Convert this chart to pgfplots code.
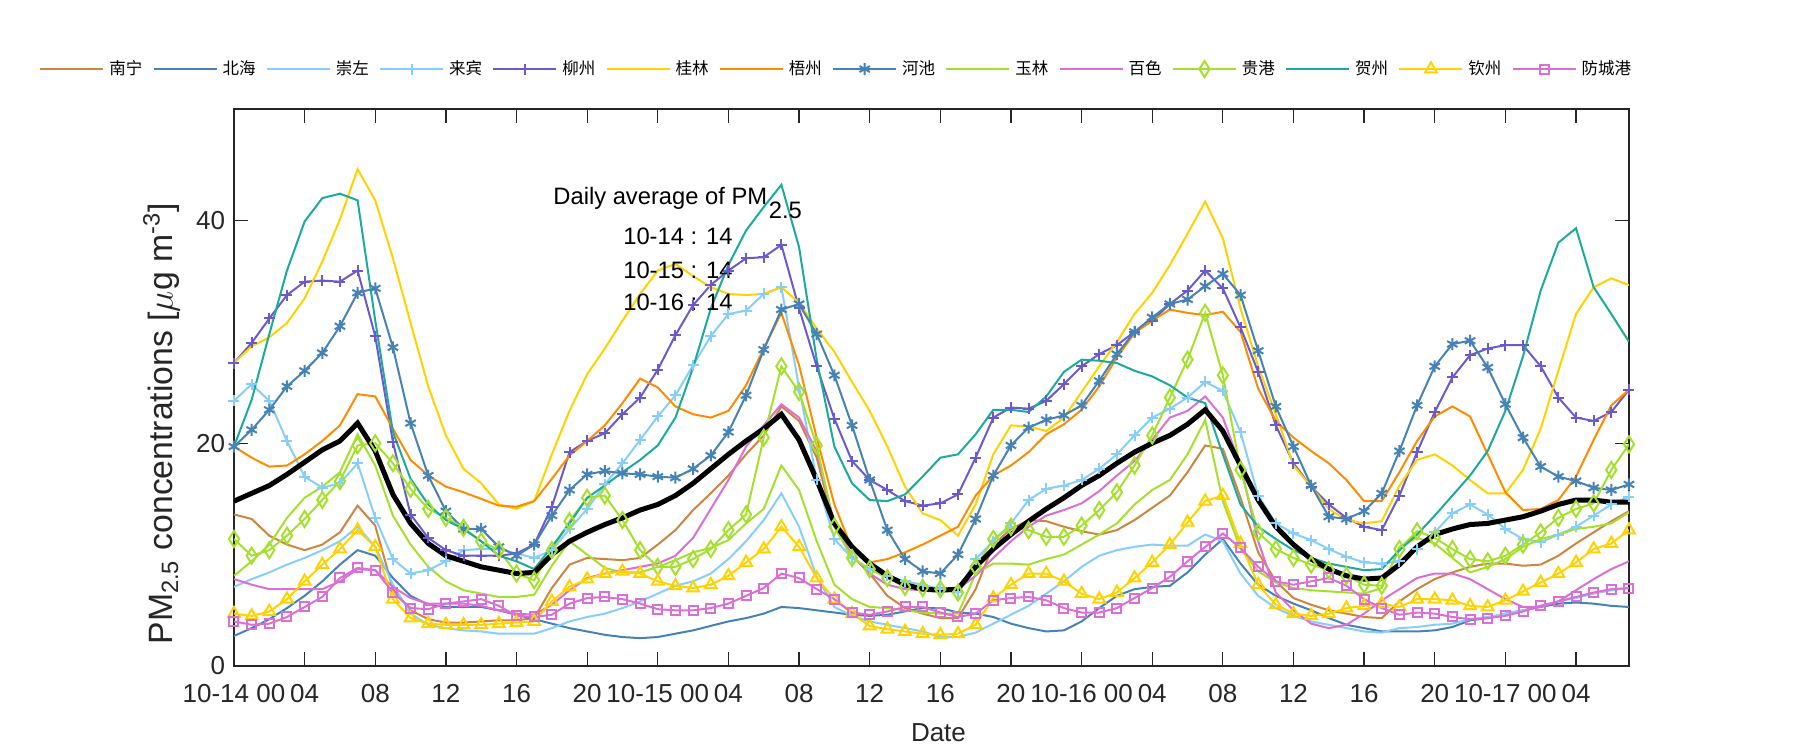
\documentclass[border=0pt]{standalone}
\usepackage{pgfplots}
\pgfplotsset{compat=1.18}
\usepackage{fontspec}
\setmainfont{Liberation Sans}
\newfontfamily\cjk{Noto Sans CJK SC}
\definecolor{cNN}{HTML}{CD853F}
\definecolor{cBH}{HTML}{4682B4}
\definecolor{cCZ}{HTML}{87CEFA}
\definecolor{cLZ}{HTML}{6A5ACD}
\definecolor{cGL}{HTML}{FFD200}
\definecolor{cWZ}{HTML}{FF8C00}
\definecolor{cYL}{HTML}{A4E02C}
\definecolor{cBS}{HTML}{DA70D6}
\definecolor{cHZ}{HTML}{1BAA9D}
\begin{document}
\begin{tikzpicture}
\begin{axis}[
  at={(0pt,0pt)}, anchor=south west,
  scale only axis, width=558pt, height=222.8pt,
  xmin=0, xmax=79, ymin=0, ymax=50,
  xtick={0,4,...,76}, ytick={0,20,40},
  xticklabels={10-14 00,04,08,12,16,20,10-15 00,04,08,12,16,20,10-16 00,04,08,12,16,20,10-17 00,04},
  tick align=inside, major tick length=5.6pt,
  axis line style={black!85, line width=0.5pt},
  every tick/.style={black!85, line width=0.5pt},
  /pgf/number format/assume math mode=true,
  tick label style={font=\fontsize{10.4}{12}\selectfont, text=black!85},
  xticklabel style={yshift=-4pt},
  xlabel={Date},
  xlabel style={font=\fontsize{10.4}{12}\selectfont, at={(axis description cs:0.505,-0.120)}, anchor=center, text=black!85},
  ylabel={PM\textsubscript{2.5} concentrations [$\mu$g m\textsuperscript{-3}]},
  ylabel style={font=\fontsize{13.5}{15}\selectfont, at={(axis description cs:-0.052,0.435)}, anchor=center, text=black!85},
  legend columns=14,
  legend style={at={(axis description cs:-0.1398,1.0718)}, anchor=west, draw=none, fill=none, inner sep=0pt,
     font=\fontsize{6.6}{8}\cjk, /tikz/every even column/.append style={column sep=2.1pt}},
  legend image code/.code={\draw[mark repeat=2,mark phase=2,#1] plot coordinates {(0pt,0pt) (12.6pt,0pt) (25.2pt,0pt)};},
  every axis plot/.append style={line width=0.8pt},
]
% 南宁
\addplot[cNN, mark=none] coordinates {
(0,13.6)(1,13.2)(2,11.7)(3,10.9)(4,10.4)(5,10.9)(6,12.0)(7,14.4)(8,12.6)(9,6.9)
(10,5.0)(11,4.2)(12,3.9)(13,3.9)(14,4.0)(15,4.1)(16,4.1)(17,4.3)(18,7.0)(19,9.1)
(20,9.7)(21,9.6)(22,9.5)(23,9.7)(24,10.9)(25,12.2)(26,14.0)(27,15.5)(28,17.1)(29,19.0)
(30,20.7)(31,23.3)(32,22.0)(33,18.7)(34,12.5)(35,9.9)(36,8.3)(37,6.3)(38,5.2)(39,4.7)
(40,4.3)(41,4.3)(42,6.9)(43,10.9)(44,12.3)(45,13.1)(46,13.0)(47,12.5)(48,12.1)(49,11.8)
(50,12.2)(51,13.1)(52,14.2)(53,15.3)(54,17.4)(55,19.8)(56,19.5)(57,15.1)(58,10.2)(59,7.6)
(60,6.1)(61,5.5)(62,5.0)(63,4.7)(64,4.4)(65,4.3)(66,5.8)(67,6.9)(68,7.8)(69,8.4)
(70,8.9)(71,9.2)(72,9.2)(73,9.0)(74,9.1)(75,9.9)(76,11.0)(77,12.0)(78,13.0)(79,13.9)};
\addlegendentry{南宁}
% 北海
\addplot[cBH, mark=none] coordinates {
(0,2.7)(1,3.4)(2,4.2)(3,5.2)(4,6.3)(5,7.6)(6,9.1)(7,10.4)(8,9.9)(9,7.9)
(10,6.3)(11,5.5)(12,5.3)(13,5.3)(14,5.3)(15,5.0)(16,4.6)(17,4.2)(18,3.8)(19,3.4)
(20,3.1)(21,2.8)(22,2.6)(23,2.5)(24,2.6)(25,2.9)(26,3.2)(27,3.6)(28,4.0)(29,4.3)
(30,4.7)(31,5.3)(32,5.2)(33,5.0)(34,4.8)(35,4.6)(36,4.5)(37,4.6)(38,4.9)(39,5.2)
(40,5.2)(41,4.8)(42,4.7)(43,4.4)(44,3.8)(45,3.4)(46,3.1)(47,3.2)(48,4.0)(49,5.2)
(50,6.3)(51,6.9)(52,7.1)(53,7.2)(54,8.4)(55,10.0)(56,11.4)(57,9.2)(58,7.3)(59,6.3)
(60,5.6)(61,5.0)(62,4.3)(63,3.7)(64,3.4)(65,3.1)(66,3.1)(67,3.1)(68,3.2)(69,3.5)
(70,4.1)(71,4.3)(72,4.7)(73,5.0)(74,5.3)(75,5.6)(76,5.7)(77,5.6)(78,5.4)(79,5.3)};
\addlegendentry{北海}
% 崇左
\addplot[cCZ, mark=none] coordinates {
(0,7.1)(1,7.8)(2,8.4)(3,9.1)(4,9.7)(5,10.4)(6,11.2)(7,12.5)(8,10.7)(9,7.3)
(10,4.7)(11,3.7)(12,3.4)(13,3.2)(14,3.1)(15,2.9)(16,2.9)(17,2.9)(18,3.4)(19,4.0)
(20,4.4)(21,4.7)(22,5.2)(23,5.8)(24,6.5)(25,7.2)(26,7.6)(27,8.3)(28,9.6)(29,11.2)
(30,13.1)(31,15.5)(32,12.5)(33,8.0)(34,5.3)(35,4.5)(36,4.0)(37,3.7)(38,3.4)(39,3.1)
(40,2.6)(41,2.6)(42,3.0)(43,3.8)(44,4.6)(45,5.4)(46,6.5)(47,7.6)(48,8.9)(49,9.9)
(50,10.4)(51,10.7)(52,10.9)(53,10.8)(54,10.8)(55,11.8)(56,11.2)(57,8.3)(58,6.3)(59,5.2)
(60,4.5)(61,4.0)(62,3.7)(63,3.4)(64,3.1)(65,3.0)(66,3.4)(67,3.5)(68,3.7)(69,3.8)
(70,4.2)(71,4.4)(72,4.7)(73,5.0)(74,5.4)(75,5.8)(76,6.1)(77,6.5)(78,6.8)(79,7.0)};
\addlegendentry{崇左}
% 来宾
\addplot[cCZ, mark=+, mark size=2.2pt, mark options={solid}] coordinates {
(0,23.8)(1,25.3)(2,23.8)(3,20.2)(4,17.0)(5,16.0)(6,16.4)(7,18.2)(8,13.3)(9,9.6)
(10,8.3)(11,8.6)(12,9.4)(13,10.4)(14,10.5)(15,10.5)(16,10.1)(17,9.7)(18,10.4)(19,12.3)
(20,14.1)(21,16.3)(22,18.2)(23,20.3)(24,22.4)(25,24.3)(26,27.0)(27,29.6)(28,31.6)(29,31.9)
(30,33.4)(31,34.0)(32,25.0)(33,16.7)(34,11.4)(35,9.7)(36,8.7)(37,8.1)(38,7.6)(39,7.3)
(40,6.9)(41,6.6)(42,9.6)(43,11.2)(44,12.8)(45,14.9)(46,15.9)(47,16.2)(48,16.7)(49,17.7)
(50,19.0)(51,20.7)(52,22.3)(53,23.1)(54,24.1)(55,25.5)(56,24.7)(57,21.0)(58,15.3)(59,12.8)
(60,11.9)(61,11.3)(62,10.5)(63,9.8)(64,9.3)(65,9.2)(66,9.4)(67,10.5)(68,12.0)(69,13.7)
(70,14.5)(71,13.6)(72,12.3)(73,11.4)(74,11.1)(75,11.8)(76,12.5)(77,13.5)(78,14.5)(79,15.2)};
\addlegendentry{来宾}
% 柳州
\addplot[cLZ, mark=+, mark size=2.2pt, mark options={solid}] coordinates {
(0,27.2)(1,29.0)(2,31.2)(3,33.3)(4,34.5)(5,34.6)(6,34.5)(7,35.5)(8,29.6)(9,20.1)
(10,13.6)(11,11.5)(12,10.4)(13,9.9)(14,9.9)(15,9.9)(16,10.1)(17,10.9)(18,14.3)(19,19.2)
(20,20.2)(21,20.9)(22,22.6)(23,24.1)(24,26.6)(25,29.7)(26,32.4)(27,34.2)(28,35.5)(29,36.6)
(30,36.7)(31,37.8)(32,32.1)(33,26.9)(34,22.2)(35,18.4)(36,16.7)(37,15.8)(38,14.8)(39,14.4)
(40,14.6)(41,15.4)(42,18.7)(43,22.3)(44,23.2)(45,23.1)(46,23.8)(47,25.3)(48,26.9)(49,28.0)
(50,28.8)(51,30.0)(52,31.0)(53,32.5)(54,33.7)(55,35.5)(56,33.9)(57,30.4)(58,26.4)(59,21.6)
(60,18.2)(61,16.1)(62,14.5)(63,13.3)(64,12.5)(65,12.2)(66,15.3)(67,19.2)(68,22.8)(69,25.9)
(70,27.9)(71,28.5)(72,28.8)(73,28.8)(74,26.9)(75,24.1)(76,22.3)(77,22.0)(78,22.8)(79,24.8)};
\addlegendentry{柳州}
% 桂林
\addplot[cGL, mark=none] coordinates {
(0,27.2)(1,28.7)(2,29.5)(3,30.8)(4,33.0)(5,36.3)(6,40.1)(7,44.6)(8,41.8)(9,36.6)
(10,30.8)(11,25.1)(12,20.7)(13,17.7)(14,16.4)(15,14.5)(16,14.1)(17,14.8)(18,19.0)(19,22.9)
(20,26.2)(21,28.5)(22,31.0)(23,33.4)(24,35.5)(25,36.1)(26,35.0)(27,34.0)(28,33.4)(29,33.3)
(30,33.4)(31,34.0)(32,32.6)(33,30.3)(34,28.2)(35,25.5)(36,22.9)(37,19.7)(38,16.1)(39,13.7)
(40,13.1)(41,11.7)(42,14.5)(43,19.0)(44,21.6)(45,21.5)(46,21.1)(47,22.3)(48,24.6)(49,26.9)
(50,29.1)(51,31.6)(52,33.5)(53,36.0)(54,38.8)(55,41.7)(56,38.4)(57,32.1)(58,26.9)(59,22.6)
(60,18.0)(61,16.1)(62,14.1)(63,13.1)(64,12.8)(65,13.0)(66,16.2)(67,18.5)(68,19.0)(69,18.0)
(70,16.7)(71,15.5)(72,15.5)(73,17.6)(74,21.3)(75,26.5)(76,31.6)(77,34.0)(78,34.8)(79,34.2)};
\addlegendentry{桂林}
% 梧州
\addplot[cWZ, mark=none] coordinates {
(0,19.7)(1,18.7)(2,17.9)(3,18.0)(4,19.0)(5,20.2)(6,21.6)(7,24.4)(8,24.2)(9,21.3)
(10,18.5)(11,17.1)(12,16.1)(13,15.6)(14,15.0)(15,14.4)(16,14.3)(17,14.8)(18,16.8)(19,18.9)
(20,20.2)(21,21.6)(22,23.6)(23,25.8)(24,25.0)(25,23.3)(26,22.6)(27,22.3)(28,22.9)(29,25.2)
(30,28.5)(31,31.7)(32,27.0)(33,20.5)(34,14.5)(35,10.5)(36,9.3)(37,9.6)(38,10.2)(39,10.9)
(40,11.7)(41,12.5)(42,15.3)(43,17.1)(44,18.0)(45,19.2)(46,20.8)(47,21.7)(48,23.0)(49,25.1)
(50,27.7)(51,29.9)(52,31.0)(53,32.0)(54,31.7)(55,31.5)(56,31.8)(57,30.0)(58,24.9)(59,22.0)
(60,20.5)(61,19.3)(62,18.2)(63,16.7)(64,14.8)(65,14.8)(66,17.4)(67,20.2)(68,22.4)(69,23.3)
(70,22.4)(71,19.0)(72,15.6)(73,14.0)(74,14.1)(75,14.9)(76,17.0)(77,20.3)(78,23.4)(79,24.8)};
\addlegendentry{梧州}
% 河池
\addplot[cBH, mark=asterisk, mark size=2.4pt, mark options={solid}] coordinates {
(0,19.7)(1,21.2)(2,23.0)(3,25.1)(4,26.5)(5,28.1)(6,30.5)(7,33.5)(8,33.9)(9,28.6)
(10,21.8)(11,17.1)(12,13.9)(13,12.3)(14,12.3)(15,10.7)(16,9.9)(17,10.9)(18,13.5)(19,15.8)
(20,17.2)(21,17.5)(22,17.3)(23,17.2)(24,17.0)(25,16.9)(26,17.7)(27,18.9)(28,21.0)(29,24.3)
(30,28.4)(31,32.0)(32,32.5)(33,29.8)(34,26.1)(35,21.6)(36,16.7)(37,12.2)(38,9.6)(39,8.5)
(40,8.3)(41,10.0)(42,13.2)(43,17.1)(44,19.8)(45,21.4)(46,22.1)(47,22.5)(48,23.4)(49,25.6)
(50,28.0)(51,30.0)(52,31.3)(53,32.5)(54,32.9)(55,34.1)(56,35.2)(57,33.3)(58,28.3)(59,23.3)
(60,19.7)(61,16.2)(62,13.4)(63,13.2)(64,13.9)(65,15.5)(66,19.3)(67,23.4)(68,26.9)(69,28.9)
(70,29.2)(71,26.8)(72,23.5)(73,20.5)(74,17.9)(75,17.0)(76,16.6)(77,16.0)(78,15.8)(79,16.3)};
\addlegendentry{河池}
% 玉林
\addplot[cYL, mark=none] coordinates {
(0,8.1)(1,9.4)(2,10.9)(3,13.3)(4,15.1)(5,16.1)(6,17.4)(7,20.8)(8,18.0)(9,13.5)
(10,10.9)(11,8.9)(12,7.6)(13,6.8)(14,6.5)(15,6.2)(16,6.2)(17,6.4)(18,9.0)(19,11.2)
(20,10.0)(21,8.8)(22,8.4)(23,8.4)(24,8.9)(25,9.5)(26,10.2)(27,10.6)(28,11.3)(29,12.8)
(30,14.1)(31,18.0)(32,15.8)(33,11.2)(34,7.3)(35,6.0)(36,5.3)(37,5.2)(38,5.0)(39,4.8)
(40,4.7)(41,4.7)(42,8.3)(43,9.2)(44,9.2)(45,9.1)(46,9.6)(47,10.0)(48,10.9)(49,11.8)
(50,12.8)(51,14.5)(52,15.8)(53,16.7)(54,19.0)(55,22.1)(56,14.8)(57,10.5)(58,8.5)(59,7.5)
(60,7.0)(61,6.8)(62,6.7)(63,6.6)(64,6.5)(65,7.0)(66,10.7)(67,11.5)(68,11.0)(69,9.7)
(70,8.4)(71,8.9)(72,9.6)(73,10.7)(74,11.4)(75,11.8)(76,12.3)(77,12.5)(78,12.8)(79,13.8)};
\addlegendentry{玉林}
% 百色
\addplot[cBS, mark=none] coordinates {
(0,7.8)(1,7.3)(2,6.9)(3,6.9)(4,6.9)(5,6.9)(6,7.6)(7,8.7)(8,8.6)(9,7.1)
(10,6.1)(11,5.6)(12,5.6)(13,5.6)(14,5.4)(15,5.0)(16,4.7)(17,4.6)(18,5.5)(19,6.8)
(20,7.9)(21,8.3)(22,8.6)(23,8.9)(24,9.2)(25,9.9)(26,11.5)(27,14.1)(28,16.7)(29,19.7)
(30,21.6)(31,23.5)(32,22.3)(33,19.3)(34,12.8)(35,9.9)(36,8.3)(37,7.3)(38,6.9)(39,6.8)
(40,6.8)(41,6.9)(42,8.1)(43,9.7)(44,11.2)(45,12.5)(46,13.5)(47,14.0)(48,14.6)(49,15.7)
(50,17.1)(51,18.4)(52,20.3)(53,22.3)(54,22.9)(55,24.2)(56,22.3)(57,18.0)(58,11.2)(59,6.6)
(60,5.0)(61,3.8)(62,3.4)(63,3.7)(64,4.7)(65,5.9)(66,6.9)(67,7.9)(68,8.3)(69,8.3)
(70,7.8)(71,6.9)(72,6.0)(73,5.3)(74,5.3)(75,5.8)(76,6.8)(77,7.8)(78,8.7)(79,9.4)};
\addlegendentry{百色}
% 贵港
\addplot[cYL, mark=diamond, mark size=3.2pt, mark options={solid, fill=none, xscale=0.85}] coordinates {
(0,11.4)(1,9.9)(2,10.4)(3,11.7)(4,13.2)(5,14.9)(6,16.6)(7,19.8)(8,20.0)(9,18.2)
(10,15.9)(11,14.1)(12,13.3)(13,12.4)(14,11.2)(15,10.4)(16,8.3)(17,7.7)(18,10.4)(19,13.0)
(20,15.1)(21,15.3)(22,13.1)(23,10.4)(24,8.9)(25,8.9)(26,9.6)(27,10.5)(28,12.2)(29,13.6)
(30,20.5)(31,26.9)(32,24.6)(33,19.8)(34,12.5)(35,9.7)(36,8.7)(37,7.9)(38,7.1)(39,7.0)
(40,6.9)(41,6.6)(42,8.9)(43,11.4)(44,12.5)(45,12.2)(46,11.6)(47,11.6)(48,12.6)(49,14.0)
(50,15.6)(51,18.0)(52,20.7)(53,24.1)(54,27.5)(55,31.7)(56,26.1)(57,17.6)(58,12.0)(59,10.5)
(60,9.7)(61,9.1)(62,8.6)(63,8.1)(64,7.3)(65,7.2)(66,10.5)(67,12.1)(68,11.5)(69,10.5)
(70,9.6)(71,9.4)(72,9.9)(73,10.9)(74,12.0)(75,13.3)(76,14.1)(77,14.6)(78,17.6)(79,19.9)};
\addlegendentry{贵港}
% 贺州
\addplot[cHZ, mark=none] coordinates {
(0,19.7)(1,23.9)(2,29.8)(3,35.5)(4,39.9)(5,42.0)(6,42.4)(7,41.8)(8,31.0)(9,21.0)
(10,16.8)(11,14.5)(12,13.1)(13,12.3)(14,11.2)(15,9.9)(16,9.4)(17,8.7)(18,10.7)(19,12.8)
(20,15.1)(21,16.2)(22,17.4)(23,18.5)(24,19.8)(25,22.3)(26,26.8)(27,32.1)(28,36.0)(29,39.1)
(30,41.2)(31,43.2)(32,37.6)(33,27.5)(34,19.7)(35,16.4)(36,14.9)(37,14.8)(38,15.4)(39,17.0)
(40,18.7)(41,19.0)(42,20.8)(43,23.0)(44,23.0)(45,22.8)(46,24.2)(47,26.4)(48,27.5)(49,27.4)
(50,27.2)(51,26.5)(52,26.0)(53,25.2)(54,24.1)(55,23.6)(56,19.0)(57,14.5)(58,12.5)(59,11.4)
(60,10.4)(61,9.7)(62,9.2)(63,8.9)(64,8.6)(65,8.7)(66,10.4)(67,11.8)(68,13.5)(69,15.3)
(70,17.1)(71,19.3)(72,22.9)(73,27.8)(74,33.7)(75,38.0)(76,39.3)(77,34.0)(78,31.6)(79,29.1)};
\addlegendentry{贺州}
% 钦州
\addplot[cGL, mark=triangle, mark size=2.7pt, mark options={solid, fill=none}] coordinates {
(0,4.7)(1,4.5)(2,4.9)(3,6.0)(4,7.6)(5,9.1)(6,10.5)(7,12.2)(8,10.7)(9,6.0)
(10,4.3)(11,3.8)(12,3.7)(13,3.7)(14,3.7)(15,3.8)(16,3.9)(17,4.0)(18,5.8)(19,7.1)
(20,7.8)(21,8.3)(22,8.5)(23,8.3)(24,7.6)(25,7.2)(26,7.0)(27,7.3)(28,8.1)(29,9.3)
(30,10.5)(31,12.5)(32,10.7)(33,7.9)(34,6.0)(35,4.7)(36,3.6)(37,3.3)(38,3.1)(39,2.9)
(40,2.8)(41,2.9)(42,3.7)(43,6.1)(44,7.3)(45,8.3)(46,8.3)(47,7.6)(48,6.5)(49,6.0)
(50,6.6)(51,7.9)(52,9.3)(53,10.9)(54,12.9)(55,14.8)(56,15.3)(57,11.0)(58,7.3)(59,5.5)
(60,4.7)(61,4.5)(62,4.7)(63,5.2)(64,5.4)(65,5.6)(66,5.3)(67,6.0)(68,6.0)(69,5.9)
(70,5.4)(71,5.3)(72,5.9)(73,6.7)(74,7.5)(75,8.3)(76,9.3)(77,10.5)(78,11.0)(79,12.2)};
\addlegendentry{钦州}
% 防城港
\addplot[cBS, mark=square, mark size=1.8pt, mark options={solid, fill=none}] coordinates {
(0,4.0)(1,3.7)(2,3.8)(3,4.4)(4,5.3)(5,6.2)(6,7.9)(7,8.8)(8,8.6)(9,6.6)
(10,5.2)(11,5.1)(12,5.6)(13,5.8)(14,6.0)(15,5.4)(16,4.5)(17,4.4)(18,4.6)(19,5.6)
(20,6.1)(21,6.2)(22,6.0)(23,5.6)(24,5.1)(25,5.0)(26,5.0)(27,5.2)(28,5.6)(29,6.3)
(30,7.0)(31,8.3)(32,7.9)(33,6.9)(34,6.0)(35,4.8)(36,4.6)(37,4.9)(38,5.3)(39,5.3)
(40,4.8)(41,4.4)(42,4.7)(43,5.9)(44,6.1)(45,6.2)(46,5.9)(47,5.2)(48,4.8)(49,4.8)
(50,5.2)(51,6.1)(52,7.0)(53,8.0)(54,9.4)(55,10.7)(56,11.9)(57,10.6)(58,8.9)(59,7.6)
(60,7.3)(61,7.6)(62,7.9)(63,7.2)(64,6.0)(65,5.2)(66,4.6)(67,4.8)(68,4.7)(69,4.4)
(70,4.2)(71,4.3)(72,4.5)(73,4.9)(74,5.4)(75,5.8)(76,6.2)(77,6.6)(78,6.9)(79,7.0)};
\addlegendentry{防城港}
% average
\addplot[black, line width=2pt, mark=none, forget plot] coordinates {
(0,14.8)(1,15.5)(2,16.2)(3,17.2)(4,18.3)(5,19.4)(6,20.2)(7,21.8)(8,19.3)(9,15.4)
(10,12.8)(11,11.0)(12,9.9)(13,9.4)(14,8.9)(15,8.6)(16,8.3)(17,8.4)(18,10.0)(19,11.2)
(20,12.0)(21,12.7)(22,13.3)(23,14.0)(24,14.5)(25,15.3)(26,16.4)(27,17.7)(28,19.0)(29,20.2)
(30,21.3)(31,22.6)(32,20.3)(33,16.7)(34,12.8)(35,10.7)(36,9.2)(37,8.1)(38,7.3)(39,6.9)
(40,6.8)(41,6.9)(42,8.9)(43,10.5)(44,11.8)(45,13.0)(46,14.1)(47,15.1)(48,16.2)(49,17.1)
(50,18.2)(51,19.2)(52,20.0)(53,20.7)(54,21.7)(55,23.0)(56,21.1)(57,18.0)(58,14.9)(59,12.5)
(60,10.9)(61,9.6)(62,8.7)(63,8.1)(64,7.8)(65,7.9)(66,9.1)(67,10.7)(68,11.8)(69,12.3)
(70,12.7)(71,12.8)(72,13.1)(73,13.4)(74,13.9)(75,14.5)(76,14.9)(77,14.9)(78,14.7)(79,14.7)};
% annotation
\node[anchor=base west, inner sep=0pt, font=\fontsize{9.5}{11}\selectfont] at (axis cs:18.06,41.4) {Daily average of PM};
\node[anchor=base west, inner sep=0pt, font=\fontsize{9.5}{11}\selectfont] at (axis cs:30.26,40.2) {2.5};
\node[anchor=base west, inner sep=0pt, font=\fontsize{9.5}{11}\selectfont] at (axis cs:22.02,37.8) {10-14 : 14};
\node[anchor=base west, inner sep=0pt, font=\fontsize{9.5}{11}\selectfont] at (axis cs:22.02,34.8) {10-15 : 14};
\node[anchor=base west, inner sep=0pt, font=\fontsize{9.5}{11}\selectfont] at (axis cs:22.02,31.95) {10-16 : 14};
\end{axis}
\pgfresetboundingbox
\path[use as bounding box] (-93.6pt,-33.6pt) rectangle (626.4pt,266.4pt);
\end{tikzpicture}
\end{document}
